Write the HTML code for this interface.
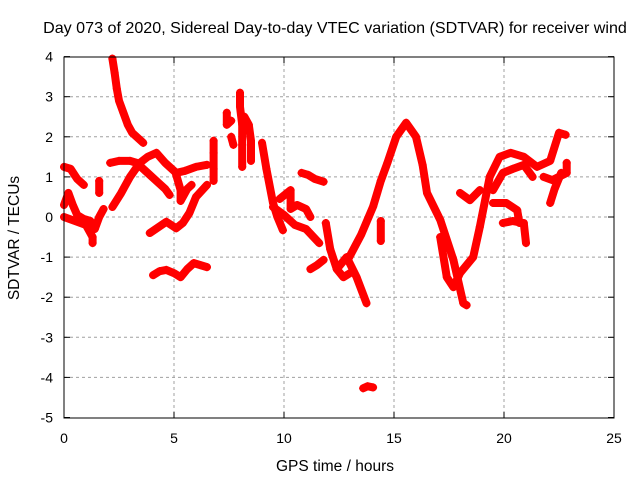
<!DOCTYPE html>
<html><head><meta charset="utf-8"><style>
body{margin:0;background:#fff}
svg text{font-family:"Liberation Sans",sans-serif;fill:#000}
</style></head><body>
<svg id="chart" width="640" height="480" viewBox="0 0 640 480" xmlns="http://www.w3.org/2000/svg">
<rect width="640" height="480" fill="#fff"/>
<text x="335" y="33" font-size="16.1" text-anchor="middle">Day 073 of 2020, Sidereal Day-to-day VTEC variation (SDTVAR) for receiver wind</text>
<text x="335" y="471" font-size="15.5" text-anchor="middle">GPS time / hours</text>
<text x="0" y="0" font-size="15.5" text-anchor="middle" transform="translate(19,238) rotate(-90)">SDTVAR / TECUs</text>
<g id="grid"></g><g id="ticks"></g><g id="marks"></g>
<rect x="64" y="57" width="550" height="361" fill="none" stroke="#000" stroke-width="1"/>
</svg>
<script>
const xTicks=[0,5,10,15,20,25];
const yTicks=[4,3,2,1,0,-1,-2,-3,-4,-5];
const segA=[[2.2,3.95],[2.3,3.6],[2.4,3.2],[2.5,2.9],[2.7,2.6],[2.9,2.3],[3.1,2.1],[3.3,2.0],[3.6,1.85]];
const segB=[[2.1,1.35],[2.5,1.4],[3.0,1.4],[3.3,1.35],[3.8,1.1],[4.2,0.9],[4.6,0.7],[4.8,0.55]];
const segC=[[2.2,0.25],[2.6,0.6],[3.0,1.0],[3.45,1.35],[3.8,1.5],[4.2,1.6],[4.6,1.35],[5.1,1.1],[5.5,1.15],[6.0,1.25],[6.5,1.3]];
const segD=[[3.9,-0.4],[4.3,-0.25],[4.65,-0.12],[5.1,-0.28],[5.4,-0.15],[5.7,0.1],[6.0,0.5],[6.5,0.8]];
const segD2=[[5.1,1.05],[5.3,0.67],[5.3,0.4],[5.6,0.7],[5.8,0.8]];
const segE=[[4.05,-1.45],[4.35,-1.35],[4.65,-1.32],[5.0,-1.4],[5.3,-1.5],[5.6,-1.3],[5.9,-1.15],[6.2,-1.2],[6.5,-1.25]];
const segF1=[[0,1.25],[0.3,1.2],[0.6,0.95],[0.9,0.8]];
const segF2=[[0,0.3],[0.2,0.6],[0.4,0.3],[0.6,0.05],[0.9,-0.05],[1.2,-0.1],[1.4,-0.3],[1.6,0],[1.8,0.2]];
const segF3=[[0,0],[0.5,-0.1],[1.0,-0.2],[1.3,-0.5],[1.3,-0.65]];
const segF4=[[1.6,0.9],[1.6,0.6]];
const segG1=[[6.8,1.9],[6.8,1.6],[6.8,1.2],[6.8,0.9]];
const segG2=[[7.4,2.6],[7.4,2.3],[7.6,2.4]];
const segG3=[[8.0,3.1],[8.0,2.75],[8.1,2.3],[8.1,1.8],[8.1,1.25]];
const segG4=[[8.2,2.5],[8.4,2.3],[8.5,1.9],[8.5,1.4]];
const segG5=[[7.6,2.0],[7.7,1.8]];
const segH1=[[9.0,1.85],[9.2,1.2],[9.5,0.35],[9.7,0],[9.95,-0.33]];
const segH2=[[9.5,0.25],[10.0,0.05],[10.5,-0.2],[11.0,-0.3],[11.6,-0.65]];
const segH3=[[9.8,0.45],[10.3,0.67],[10.3,0.2],[10.6,0.3],[11.0,0.2],[11.2,0]];
const segH4=[[10.8,1.1],[11.1,1.05],[11.4,0.95],[11.8,0.88]];
const segH5=[[11.2,-1.3],[11.5,-1.2],[11.8,-1.07]];
const segI1=[[11.9,-0.15],[12.1,-0.8],[12.4,-1.3],[12.85,-1.0],[13.3,-1.5],[13.75,-2.15]];
const segI2=[[12.4,-1.3],[12.7,-1.5],[13.0,-1.4]];
const segMain=[[12.9,-1.07],[13.5,-0.45],[14.05,0.26],[14.4,0.9],[14.7,1.35],[15.1,2.0],[15.55,2.35],[16.0,2.0],[16.3,1.3],[16.5,0.6],[17.1,-0.07],[17.7,-1.07],[18.15,-2.15],[18.3,-2.2]];
const segLow=[[17.1,-0.5],[17.4,-1.5],[17.7,-1.75],[18.0,-1.4],[18.6,-1.0],[18.9,-0.25],[19.35,1.0],[19.8,1.5],[20.3,1.6],[20.9,1.5],[21.5,1.25],[22.1,1.4],[22.5,2.1],[22.8,2.05]];
const segM1=[[19.5,0.67],[19.95,1.1],[20.4,1.2],[20.9,1.3],[21.3,1.0]];
const segM2=[[19.5,0.35],[20.1,0.35],[20.6,0.17],[20.7,-0.15]];
const segM3=[[19.95,-0.15],[20.4,-0.1],[20.9,-0.15],[21.0,-0.65]];
const segM4=[[18.0,0.6],[18.45,0.42],[18.9,0.67]];
const segM5=[[21.8,1.0],[22.2,0.92],[22.85,1.1],[22.85,1.35]];
const segM6=[[22.1,0.35],[22.3,0.7],[22.6,1.1]];
const segN=[[13.6,-4.27],[13.8,-4.22],[14.05,-4.25]];
const segN2=[[14.4,-0.1],[14.4,-0.6]];
const series=[segA,segB,segC,segD,segD2,segE,segF1,segF2,segF3,segF4,segG1,segG2,segG3,segG4,segG5,segH1,segH2,segH3,segH4,segH5,segI1,segI2,segMain,segLow,segM1,segM2,segM3,segM4,segM5,segM6,segN,segN2];
const X=t=>64+t*22, Y=v=>217-v*40.1;
const NS='http://www.w3.org/2000/svg';
const grid=document.getElementById('grid'),ticks=document.getElementById('ticks'),marks=document.getElementById('marks');
function mk(tag,attrs,parent){const e=document.createElementNS(NS,tag);for(const k in attrs)e.setAttribute(k,attrs[k]);parent.appendChild(e);return e;}
xTicks.forEach(t=>{
  if(t>0&&t<25){const g=mk('line',{x1:X(t),x2:X(t),y1:57,y2:418,stroke:'#a0a0a0','stroke-dasharray':'3,3'},grid);
  
  }
  const l=mk('text',{x:X(t),y:443,'font-size':14,'text-anchor':'middle'},ticks);l.textContent=t;
  
  
  mk('line',{x1:X(t),x2:X(t),y1:418,y2:412,stroke:'#000'},ticks);
  mk('line',{x1:X(t),x2:X(t),y1:57,y2:63,stroke:'#000'},ticks);
});
yTicks.forEach(v=>{
  if(v<4&&v>-5){const g=mk('line',{x1:64,x2:614,y1:Y(v),y2:Y(v),stroke:'#a0a0a0','stroke-dasharray':'3,3'},grid);
  
  }
  const l=mk('text',{x:53,y:Y(v)+5,'font-size':14,'text-anchor':'end'},ticks);l.textContent=v;
  
  
  mk('line',{x1:64,x2:70,y1:Y(v),y2:Y(v),stroke:'#000'},ticks);
  mk('line',{x1:614,x2:608,y1:Y(v),y2:Y(v),stroke:'#000'},ticks);
});
series.forEach((s,i)=>{
  const g=mk('g',{},marks);
  
  
  if(s.length>1){mk('polyline',{points:s.map(p=>X(p[0])+','+Y(p[1])).join(' '),fill:'none',stroke:'#ff0000','stroke-width':8,'stroke-linejoin':'round','stroke-linecap':'round'},g);}
  s.forEach(p=>{const x=X(p[0]),y=Y(p[1]);
    mk('path',{d:`M${x-4},${y}H${x+4}M${x},${y-4}V${y+4}`,stroke:'#ff0000','stroke-width':1.5},g);});
});
</script>
</body></html>
